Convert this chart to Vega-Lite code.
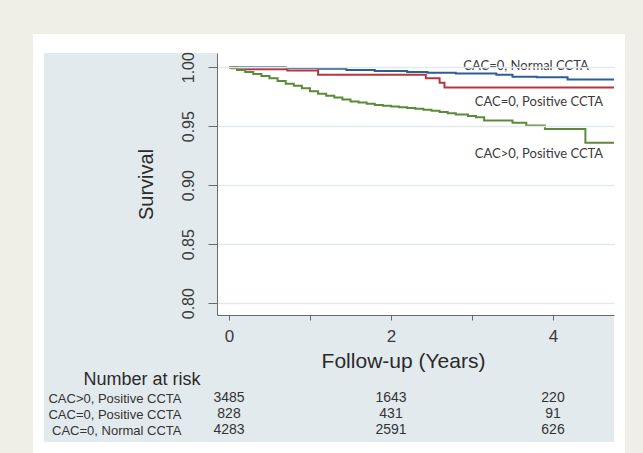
{
  "$schema": "https://vega.github.io/schema/vega-lite/v6.json",
  "background": "#efefe6",
  "padding": {"left": 32, "top": 33, "right": 19, "bottom": 0},
  "spacing": 75,
  "bounds": "flush",
  "config": {"view": {"stroke": null}, "font": "Liberation Sans"},
  "datasets": {
    "curves": [
      {"group": "CAC=0, Normal CCTA", "t": 0, "s": 1.0},
      {"group": "CAC=0, Normal CCTA", "t": 0.2, "s": 0.9999},
      {"group": "CAC=0, Normal CCTA", "t": 0.7, "s": 0.9993},
      {"group": "CAC=0, Normal CCTA", "t": 1.1, "s": 0.9986},
      {"group": "CAC=0, Normal CCTA", "t": 1.45, "s": 0.9977},
      {"group": "CAC=0, Normal CCTA", "t": 1.8, "s": 0.9968},
      {"group": "CAC=0, Normal CCTA", "t": 2.2, "s": 0.9958},
      {"group": "CAC=0, Normal CCTA", "t": 2.45, "s": 0.9952},
      {"group": "CAC=0, Normal CCTA", "t": 2.8, "s": 0.9946},
      {"group": "CAC=0, Normal CCTA", "t": 3.3, "s": 0.9936},
      {"group": "CAC=0, Normal CCTA", "t": 3.5, "s": 0.9918},
      {"group": "CAC=0, Normal CCTA", "t": 3.8, "s": 0.9914},
      {"group": "CAC=0, Normal CCTA", "t": 4.18, "s": 0.9895},
      {"group": "CAC=0, Normal CCTA", "t": 4.76, "s": 0.9895},
      {"group": "CAC=0, Positive CCTA", "t": 0, "s": 1.0},
      {"group": "CAC=0, Positive CCTA", "t": 0.1, "s": 0.9982},
      {"group": "CAC=0, Positive CCTA", "t": 0.72, "s": 0.9972},
      {"group": "CAC=0, Positive CCTA", "t": 1.1, "s": 0.9936},
      {"group": "CAC=0, Positive CCTA", "t": 2.43, "s": 0.9905},
      {"group": "CAC=0, Positive CCTA", "t": 2.6, "s": 0.9868},
      {"group": "CAC=0, Positive CCTA", "t": 2.66, "s": 0.9828},
      {"group": "CAC=0, Positive CCTA", "t": 4.76, "s": 0.9828},
      {"group": "CAC>0, Positive CCTA", "t": 0, "s": 1.0},
      {"group": "CAC>0, Positive CCTA", "t": 0.03, "s": 0.999},
      {"group": "CAC>0, Positive CCTA", "t": 0.1, "s": 0.9975},
      {"group": "CAC>0, Positive CCTA", "t": 0.2, "s": 0.9958},
      {"group": "CAC>0, Positive CCTA", "t": 0.3, "s": 0.9942},
      {"group": "CAC>0, Positive CCTA", "t": 0.4, "s": 0.9925},
      {"group": "CAC>0, Positive CCTA", "t": 0.5, "s": 0.9905},
      {"group": "CAC>0, Positive CCTA", "t": 0.6, "s": 0.9882},
      {"group": "CAC>0, Positive CCTA", "t": 0.7, "s": 0.986},
      {"group": "CAC>0, Positive CCTA", "t": 0.8, "s": 0.9842},
      {"group": "CAC>0, Positive CCTA", "t": 0.9, "s": 0.9822},
      {"group": "CAC>0, Positive CCTA", "t": 1.0, "s": 0.9795},
      {"group": "CAC>0, Positive CCTA", "t": 1.1, "s": 0.9775},
      {"group": "CAC>0, Positive CCTA", "t": 1.2, "s": 0.9758},
      {"group": "CAC>0, Positive CCTA", "t": 1.3, "s": 0.9742},
      {"group": "CAC>0, Positive CCTA", "t": 1.4, "s": 0.9725},
      {"group": "CAC>0, Positive CCTA", "t": 1.5, "s": 0.971},
      {"group": "CAC>0, Positive CCTA", "t": 1.6, "s": 0.97},
      {"group": "CAC>0, Positive CCTA", "t": 1.7, "s": 0.969},
      {"group": "CAC>0, Positive CCTA", "t": 1.8, "s": 0.968},
      {"group": "CAC>0, Positive CCTA", "t": 1.9, "s": 0.9672},
      {"group": "CAC>0, Positive CCTA", "t": 2.0, "s": 0.9666},
      {"group": "CAC>0, Positive CCTA", "t": 2.1, "s": 0.9661},
      {"group": "CAC>0, Positive CCTA", "t": 2.2, "s": 0.9655},
      {"group": "CAC>0, Positive CCTA", "t": 2.3, "s": 0.9648},
      {"group": "CAC>0, Positive CCTA", "t": 2.4, "s": 0.9639},
      {"group": "CAC>0, Positive CCTA", "t": 2.5, "s": 0.963},
      {"group": "CAC>0, Positive CCTA", "t": 2.6, "s": 0.962},
      {"group": "CAC>0, Positive CCTA", "t": 2.7, "s": 0.9609},
      {"group": "CAC>0, Positive CCTA", "t": 2.8, "s": 0.9598},
      {"group": "CAC>0, Positive CCTA", "t": 2.95, "s": 0.9586},
      {"group": "CAC>0, Positive CCTA", "t": 3.05, "s": 0.9575},
      {"group": "CAC>0, Positive CCTA", "t": 3.15, "s": 0.9548},
      {"group": "CAC>0, Positive CCTA", "t": 3.5, "s": 0.953},
      {"group": "CAC>0, Positive CCTA", "t": 3.67, "s": 0.9506},
      {"group": "CAC>0, Positive CCTA", "t": 3.9, "s": 0.9476},
      {"group": "CAC>0, Positive CCTA", "t": 4.4, "s": 0.936},
      {"group": "CAC>0, Positive CCTA", "t": 4.76, "s": 0.936}
    ],
    "labels": [
      {"label": "CAC=0, Normal CCTA", "t": 3.667, "s": 1.001},
      {"label": "CAC=0, Positive CCTA", "t": 3.827, "s": 0.9705},
      {"label": "CAC>0, Positive CCTA", "t": 3.827, "s": 0.9264}
    ],
    "risk": [
      {"group": "CAC>0, Positive CCTA", "t": 0, "n": 3485},
      {"group": "CAC>0, Positive CCTA", "t": 2, "n": 1643},
      {"group": "CAC>0, Positive CCTA", "t": 4, "n": 220},
      {"group": "CAC=0, Positive CCTA", "t": 0, "n": 828},
      {"group": "CAC=0, Positive CCTA", "t": 2, "n": 431},
      {"group": "CAC=0, Positive CCTA", "t": 4, "n": 91},
      {"group": "CAC=0, Normal CCTA", "t": 0, "n": 4283},
      {"group": "CAC=0, Normal CCTA", "t": 2, "n": 2591},
      {"group": "CAC=0, Normal CCTA", "t": 4, "n": 626}
    ]
  },
  "vconcat": [
    {
      "width": 397,
      "height": 262,
      "layer": [
        {
          "data": {"values": [{}]},
          "mark": {"type": "rect", "color": "#ffffff"},
          "encoding": {
            "x": {"datum": -2.4196, "type": "quantitative"},
            "x2": {"datum": 4.8888},
            "y": {"datum": 1.0281, "type": "quantitative"},
            "y2": {"datum": 0.6722}
          }
        },
        {
          "data": {"values": [{}]},
          "mark": {"type": "rect", "color": "#e3eaee"},
          "encoding": {
            "x": {"datum": -2.2838, "type": "quantitative"},
            "x2": {"datum": 4.753},
            "y": {"datum": 1.012, "type": "quantitative"},
            "y2": {"datum": 0.6824}
          }
        },
        {
          "data": {"values": [{}]},
          "mark": {"type": "rect", "color": "#ffffff"},
          "encoding": {
            "x": {"datum": -0.148, "type": "quantitative"},
            "x2": {"datum": 4.753},
            "y": {"datum": 1.012, "type": "quantitative"},
            "y2": {"datum": 0.79}
          }
        },
        {
          "data": {"name": "curves"},
          "mark": {"type": "line", "interpolate": "step-after", "strokeWidth": 2, "clip": true},
          "encoding": {
            "x": {
              "field": "t", "type": "quantitative",
              "scale": {"domain": [-0.148, 4.753], "nice": false, "zero": false},
              "axis": {
                "title": "Follow-up (Years)", "values": [0, 1, 2, 3, 4], "format": "d",
                "labelExpr": "datum.value % 2 == 0 ? datum.label : ''",
                "grid": false, "zindex": 1,
                "domainColor": "#6a6a6a", "tickColor": "#6a6a6a", "tickSize": 5,
                "labelFontSize": 17, "labelColor": "#3a3a3a", "labelPadding": 8,
                "titleFontSize": 21, "titleFontWeight": "normal", "titleColor": "#2a2a2a",
                "titleX": 186, "titleY": 46, "titleAlign": "center", "titleBaseline": "middle"
              }
            },
            "y": {
              "field": "s", "type": "quantitative",
              "scale": {"domain": [0.79, 1.012], "nice": false, "zero": false},
              "axis": {
                "title": "Survival", "values": [0.8, 0.85, 0.9, 0.95, 1.0], "format": ".2f",
                "grid": true, "gridColor": "#e2e9ed", "gridWidth": 1.5, "zindex": 1,
                "domainColor": "#6a6a6a", "tickColor": "#6a6a6a", "tickSize": 9,
                "labelAngle": -90, "labelAlign": "center", "labelBaseline": "bottom",
                "labelFontSize": 16, "labelColor": "#3a3a3a", "labelPadding": 12,
                "titleFontSize": 20, "titleFontWeight": "normal", "titleColor": "#2a2a2a",
                "titleAngle": -90, "titleX": -71, "titleY": 131, "titleAlign": "center", "titleBaseline": "middle"
              }
            },
            "color": {
              "field": "group", "type": "nominal",
              "scale": {
                "domain": ["CAC=0, Normal CCTA", "CAC=0, Positive CCTA", "CAC>0, Positive CCTA"],
                "range": ["#2d5e94", "#b4373d", "#5b8b3a"]
              },
              "legend": null
            }
          }
        },
        {
          "data": {"name": "labels"},
          "mark": {"type": "text", "font": "Lato", "fontSize": 13, "color": "#3a3a3a", "align": "center", "baseline": "middle"},
          "encoding": {
            "x": {"field": "t", "type": "quantitative"},
            "y": {"field": "s", "type": "quantitative"},
            "text": {"field": "label"}
          }
        }
      ]
    },
    {
      "width": 397,
      "height": 48,
      "data": {"name": "risk"},
      "mark": {"type": "text", "fontSize": 14, "color": "#333333"},
      "encoding": {
        "x": {
          "field": "t", "type": "quantitative",
          "scale": {"domain": [-0.148, 4.753], "nice": false, "zero": false},
          "axis": null
        },
        "y": {
          "field": "group", "type": "nominal",
          "sort": ["CAC>0, Positive CCTA", "CAC=0, Positive CCTA", "CAC=0, Normal CCTA"],
          "axis": {
            "title": "Number at risk", "titleAngle": 0, "titleAlign": "left", "titleBaseline": "middle",
            "titleX": -134, "titleY": -11, "titleFontSize": 18, "titleFontWeight": "normal", "titleColor": "#2a2a2a",
            "ticks": false, "domain": false, "labelAlign": "right", "labelPadding": 36,
            "labelFontSize": 13, "labelColor": "#333333"
          }
        },
        "text": {"field": "n", "type": "quantitative"}
      }
    }
  ]
}
